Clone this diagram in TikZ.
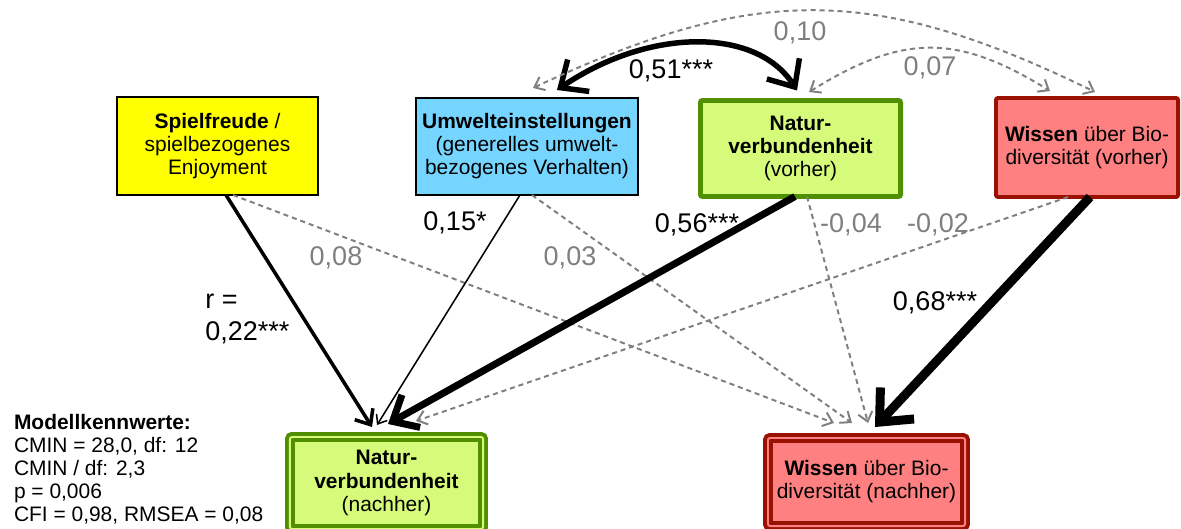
\documentclass[tikz,border=0pt]{standalone}
\usepackage{fontspec}
\setmainfont{Liberation Sans}
\usetikzlibrary{arrows.meta,calc}

\definecolor{spielgelb}{HTML}{FFFF00}
\definecolor{umweltblau}{HTML}{75D5FF}
\definecolor{naturgruen}{HTML}{D6FA7A}
\definecolor{naturrand}{HTML}{4F8F00}
\definecolor{wissenrot}{HTML}{FF8080}
\definecolor{wissenrand}{HTML}{991100}
\definecolor{nsgrau}{HTML}{7F7F7F}

\begin{document}
\begin{tikzpicture}[x=0.025cm,y=-0.025cm,
  box/.style={rectangle,align=center,inner sep=0pt,outer sep=0pt,
    font=\fontsize{14.9}{16.4}\selectfont},
  latent/.style={box,draw,line width=1.4pt},
  vorher/.style={box,line width=2.8pt,rounded corners=1.5pt},
  nachher/.style={box,line width=2.8pt,double distance=1.4pt,rounded corners=1.5pt},
  lab/.style={inner sep=0pt,font=\fontsize{19.2}{22.8}\selectfont},
  ns/.style={lab,text=nsgrau},
  tip/.tip={Straight Barb[length=3pt 2.4,width=4pt 4.5]},
  grosstip/.tip={Straight Barb[length=3pt 3.2,width=4pt 6]},
  pfeil/.style={-tip},
  beide/.style={tip-tip},
  gestr/.style={nsgrau,line width=1.4pt,dash pattern=on 3.6pt off 2.8pt}]
  \useasboundingbox (0,0) rectangle (1181,528);

  % Variablen vorher
  \draw (217.5,146) node[latent,fill=spielgelb,minimum width=5.025cm,
    minimum height=2.45cm] (SF) {\textbf{Spielfreude} /\\spielbezogenes\\Enjoyment};
  \draw (527,146.5) node[latent,fill=umweltblau,minimum width=5.55cm,
    minimum height=2.425cm] (UE) {\textbf{Umwelteinstellungen}\\(generelles umwelt-\\bezogenes Verhalten)};
  \draw (800.5,148.5) node[vorher,draw=naturrand,fill=naturgruen,line width=3.5pt,
    minimum width=5cm,minimum height=2.4cm] (NVv) {\textbf{Natur-}\\\textbf{verbundenheit}\\(vorher)};
  \draw (1087,147.5) node[vorher,draw=wissenrand,fill=wissenrot,
    minimum width=4.55cm,minimum height=2.475cm] (WBv) {\textbf{Wissen} über Bio-\\diversität (vorher)};

  % Variablen nachher
  \draw (386.5,483) node[nachher,draw=naturrand,double=naturgruen,fill=naturgruen,
    minimum width=4.825cm,minimum height=2.3cm] (NVn) {\textbf{Natur-}\\\textbf{verbundenheit}\\(nachher)};
  \draw (866.5,482) node[nachher,draw=wissenrand,double=wissenrot,fill=wissenrot,
    minimum width=4.925cm,minimum height=2.2cm] (WBn) {\textbf{Wissen} über Bio-\\diversität (nachher)};

  % Korrelationen
  \draw[grosstip-grosstip,line width=3.9pt] ($(UE.north)+(30,-8)$) .. controls +(93,-63) and +(-40,-63) .. ($(NVv.north)+(-3.5,-10)$);
  \draw[beide,gestr] ($(UE.north)+(6,-10)$) .. controls +(222,-104) and +(-221,-108) .. ($(WBv.north)+(8,-6)$);
  \draw[beide,gestr] ($(NVv.north)+(8.5,-8.5)$) .. controls +(94,-58.5) and +(-93,-57.5) .. ($(WBv.north)+(-37,-7)$);

  % Pfade
  \draw[gestr,pfeil] ($(SF.south)+(15.5,0)$) -- ($(WBn.north)+(-32.5,-15)$);
  \draw[gestr,pfeil] ($(UE.south)+(5,0)$) -- ($(WBn.north)+(-14.5,-15)$);
  \draw[gestr,pfeil] ($(NVv.south)+(6.5,0)$) -- ($(WBn.north)+(1.5,-15)$);
  \draw[gestr,pfeil] ($(WBv.south)+(-19,0)$) -- ($(NVn.north)+(29.5,-16)$);
  \draw[pfeil,line width=2.5pt] ($(SF.south)+(8.5,0)$) -- ($(NVn.north)+(-14.5,-10)$);
  \draw[pfeil,line width=1.1pt] ($(UE.south)+(-7,0)$) -- ($(NVn.north)+(-9.5,-12)$);
  \draw[pfeil,line width=5pt] ($(NVv.south)+(-5.5,0)$) -- ($(NVn.north)+(1.5,-13)$);
  \draw[pfeil,line width=6.4pt] ($(WBv.south)+(3,0)$) -- ($(WBn.north)+(8.5,-11)$);

  % Koeffizienten
  \draw (671,71) node[lab] (k51) {0,51***};
  \draw (800,33) node[ns] (k10) {0,10};
  \draw (930,68) node[ns] (k07) {0,07};
  \draw (205,319) node[lab,anchor=west,align=left] (k22) {r =\\0,22***};
  \draw (455,223) node[lab] (k15) {0,15*};
  \draw (697,225) node[lab] (k56) {0,56***};
  \draw (935,303) node[lab] (k68) {0,68***};
  \draw (336,258) node[ns] (k08) {0,08};
  \draw (570,258) node[ns] (k03) {0,03};
  \draw (851,225) node[ns] (k04) {-0,04};
  \draw (938,225) node[ns] (k02) {-0,02};

  \draw (14,469) node[box,anchor=west,align=left] (MK) {\textbf{Modellkennwerte:}\\CMIN = 28,0, df: 12\\CMIN / df: 2,3\\p = 0,006\\CFI = 0,98, RMSEA = 0,08};
\end{tikzpicture}
\end{document}
